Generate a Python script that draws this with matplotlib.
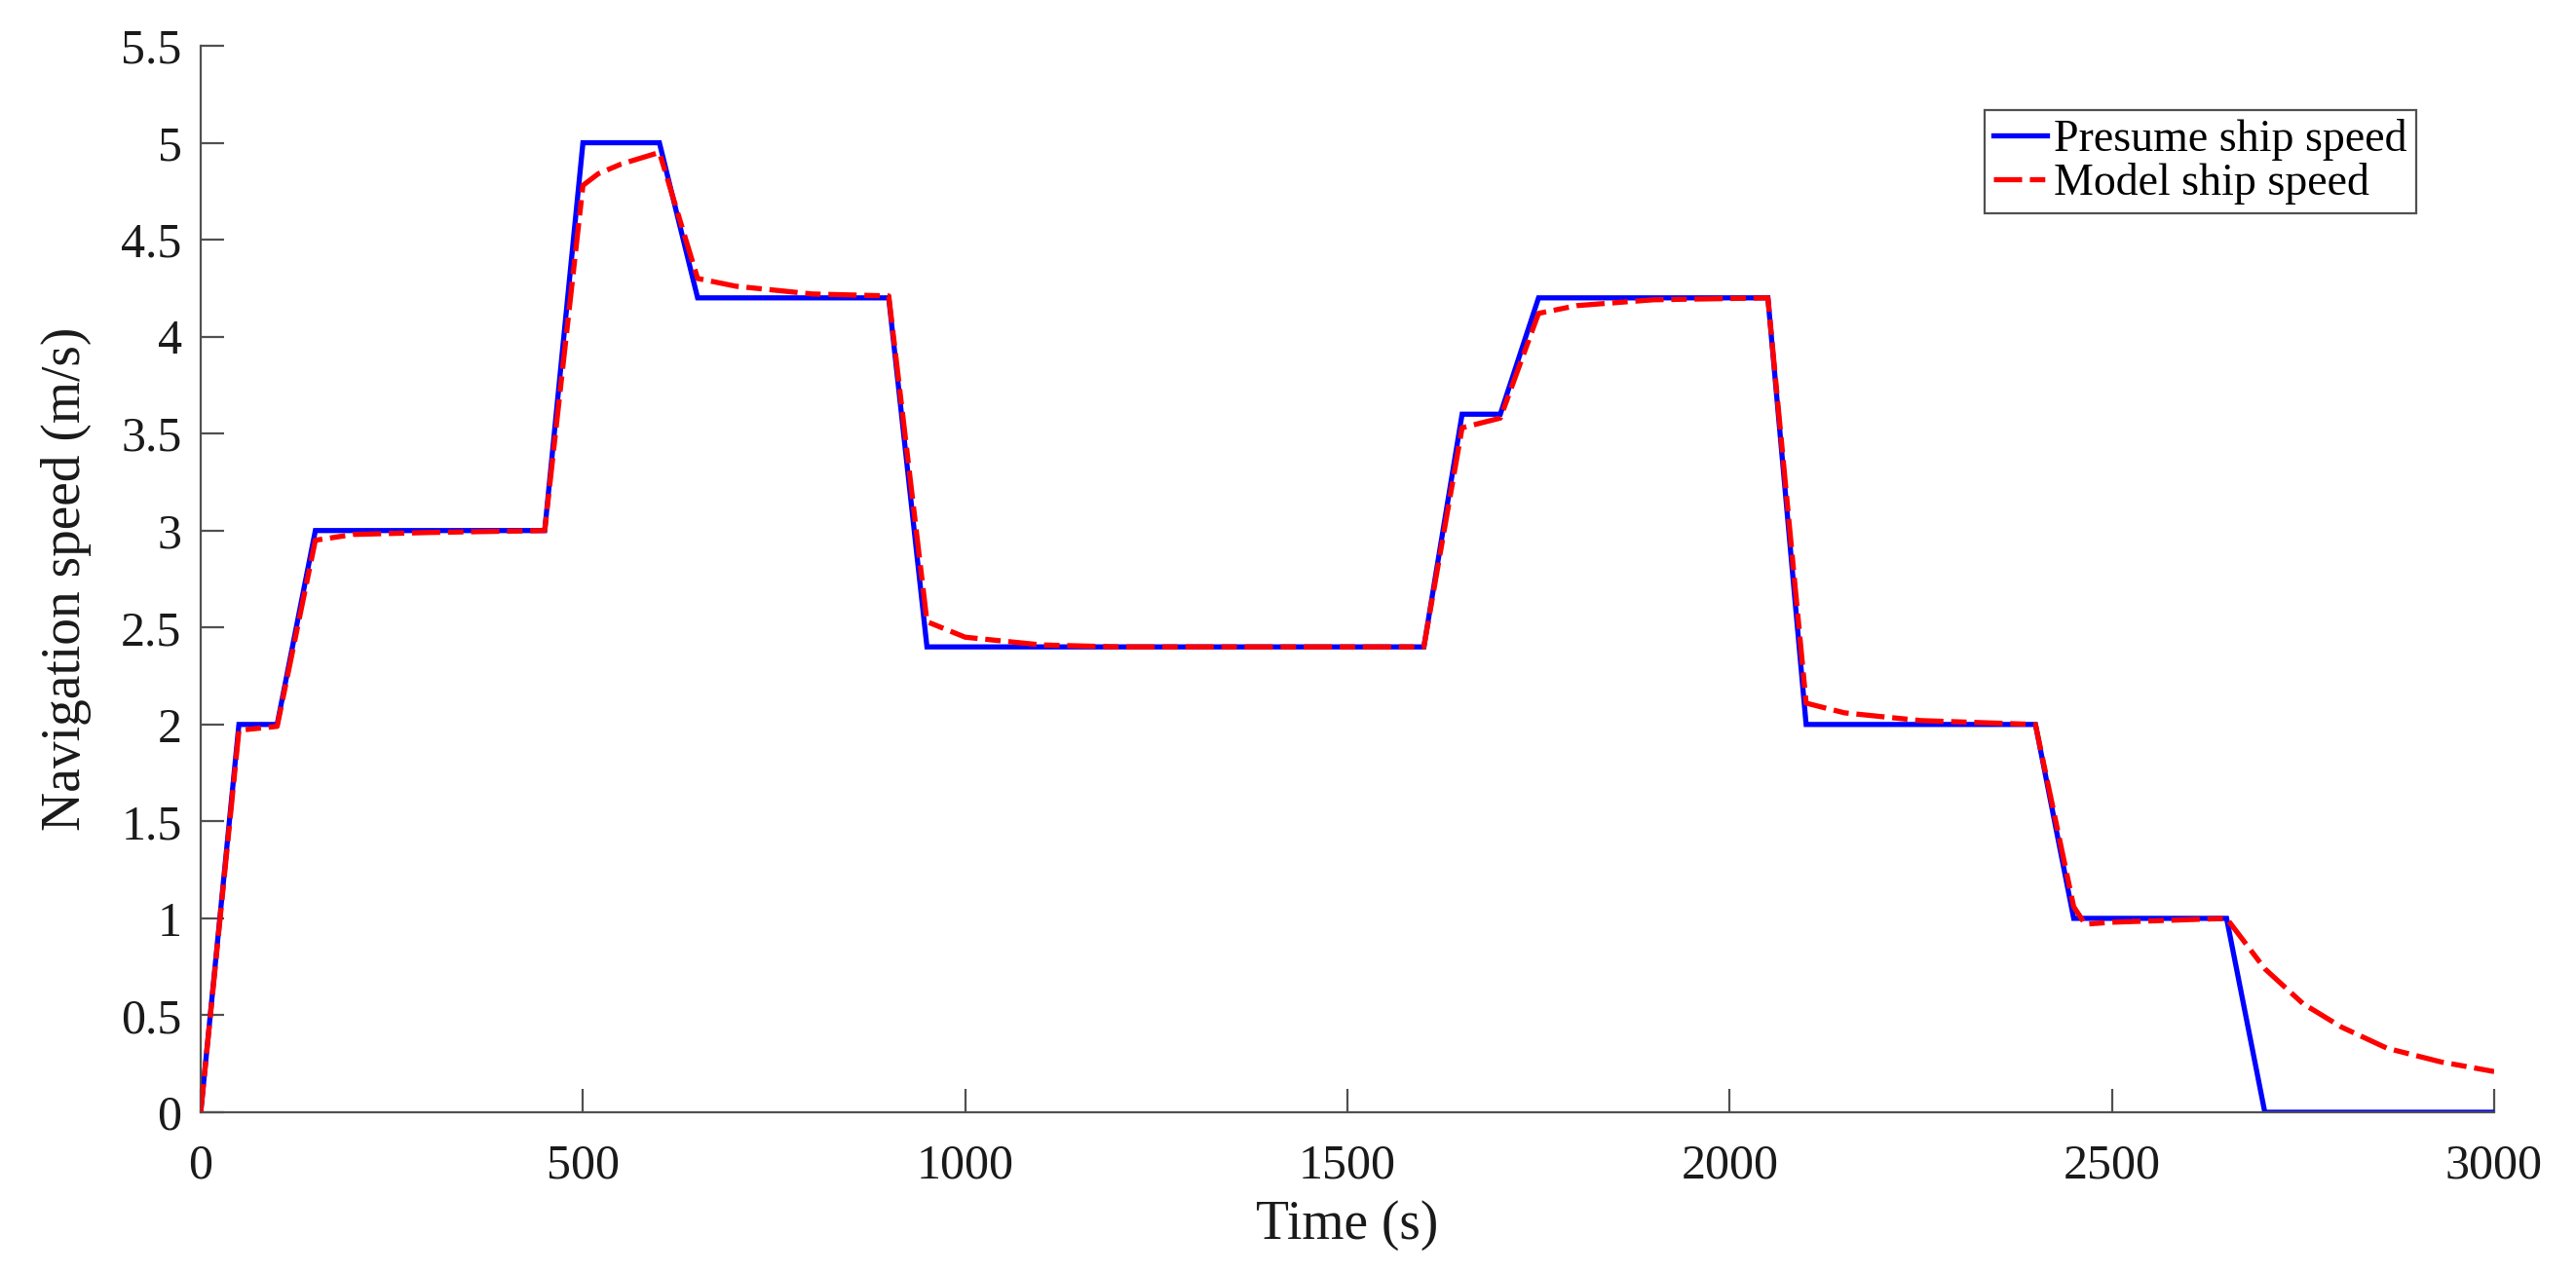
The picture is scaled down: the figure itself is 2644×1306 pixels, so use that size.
import matplotlib
matplotlib.use("Agg")
import matplotlib.pyplot as plt

# presumed (commanded) ship speed, piecewise linear
t_presume = [0, 50, 100, 150, 450, 500, 600, 650, 900, 950, 1600, 1650, 1700,
             1750, 2050, 2100, 2400, 2450, 2650, 2700, 3000]
v_presume = [0, 2.0, 2.0, 3.0, 3.0, 5.0, 5.0, 4.2, 4.2, 2.4, 2.4, 3.6, 3.6,
             4.2, 4.2, 2.0, 2.0, 1.0, 1.0, 0.0, 0.0]

# model ship speed
t_model = [0, 50, 100, 150, 200, 300, 450, 500, 520, 550, 600, 650, 700, 800,
           900, 950, 1000, 1100, 1200, 1600, 1650, 1700, 1750, 1800, 1900,
           2050, 2100, 2150, 2250, 2400, 2450, 2465, 2500, 2650, 2700, 2750,
           2800, 2860, 2930, 3000]
v_model = [0, 1.97, 1.99, 2.95, 2.98, 2.99, 3.0, 4.78, 4.84, 4.89, 4.95, 4.30,
           4.26, 4.22, 4.21, 2.53, 2.45, 2.41, 2.40, 2.40, 3.53, 3.58, 4.12,
           4.16, 4.19, 4.20, 2.11, 2.06, 2.02, 2.00, 1.06, 0.97, 0.98, 1.00,
           0.74, 0.56, 0.44, 0.33, 0.26, 0.21]

xticks = [0, 500, 1000, 1500, 2000, 2500, 3000]
yticks = [0, 0.5, 1, 1.5, 2, 2.5, 3, 3.5, 4, 4.5, 5, 5.5]
ytick_labels = ["0", "0.5", "1", "1.5", "2", "2.5", "3", "3.5", "4", "4.5", "5", "5.5"]

plt.rcParams["font.family"] = ["Liberation Serif", "DejaVu Serif"]
plt.rcParams["font.size"] = 36

fig = plt.figure(figsize=(26.44, 13.06), dpi=100)
ax = fig.add_axes([206 / 2644, 1 - 1142 / 1306, 2354 / 2644, 1095 / 1306])

ax.plot(t_presume, v_presume, color="#0000ff", lw=3.8, label="Presume ship speed",
        zorder=2, solid_joinstyle="miter")
ax.plot(t_model, v_model, color="#ff0000", lw=3.8, dashes=(5.5, 1.5, 3, 1.5),
        label="Model ship speed", zorder=3)

ax.set_xlim(0, 3000)
ax.set_ylim(0, 5.5)
ax.set_xticks(xticks)
ax.set_yticks(yticks)
ax.set_yticklabels(ytick_labels)

for s in ["top", "right"]:
    ax.spines[s].set_visible(False)
for s in ["left", "bottom"]:
    ax.spines[s].set_color("#505050")
    ax.spines[s].set_linewidth(1.6)
ax.tick_params(direction="in", length=17, width=1.6, color="#505050",
               labelcolor="#1a1a1a", labelsize=36)
ax.tick_params(axis="x", pad=23)
ax.tick_params(axis="y", pad=14)

ax.set_xlabel("Time (s)", color="#1a1a1a", fontsize=40, labelpad=8)
ax.set_ylabel("Navigation speed (m/s)", color="#1a1a1a", fontsize=40, labelpad=22)

leg = ax.legend(loc="upper right", bbox_to_anchor=(0.966, 0.94), borderaxespad=0,
                fancybox=False, framealpha=1, edgecolor="#505050",
                handlelength=1.2, handletextpad=0.15, labelspacing=0.05,
                borderpad=0.2, fontsize=33)
leg.get_frame().set_linewidth(1.6)

fig.savefig("out.png", dpi=100)
